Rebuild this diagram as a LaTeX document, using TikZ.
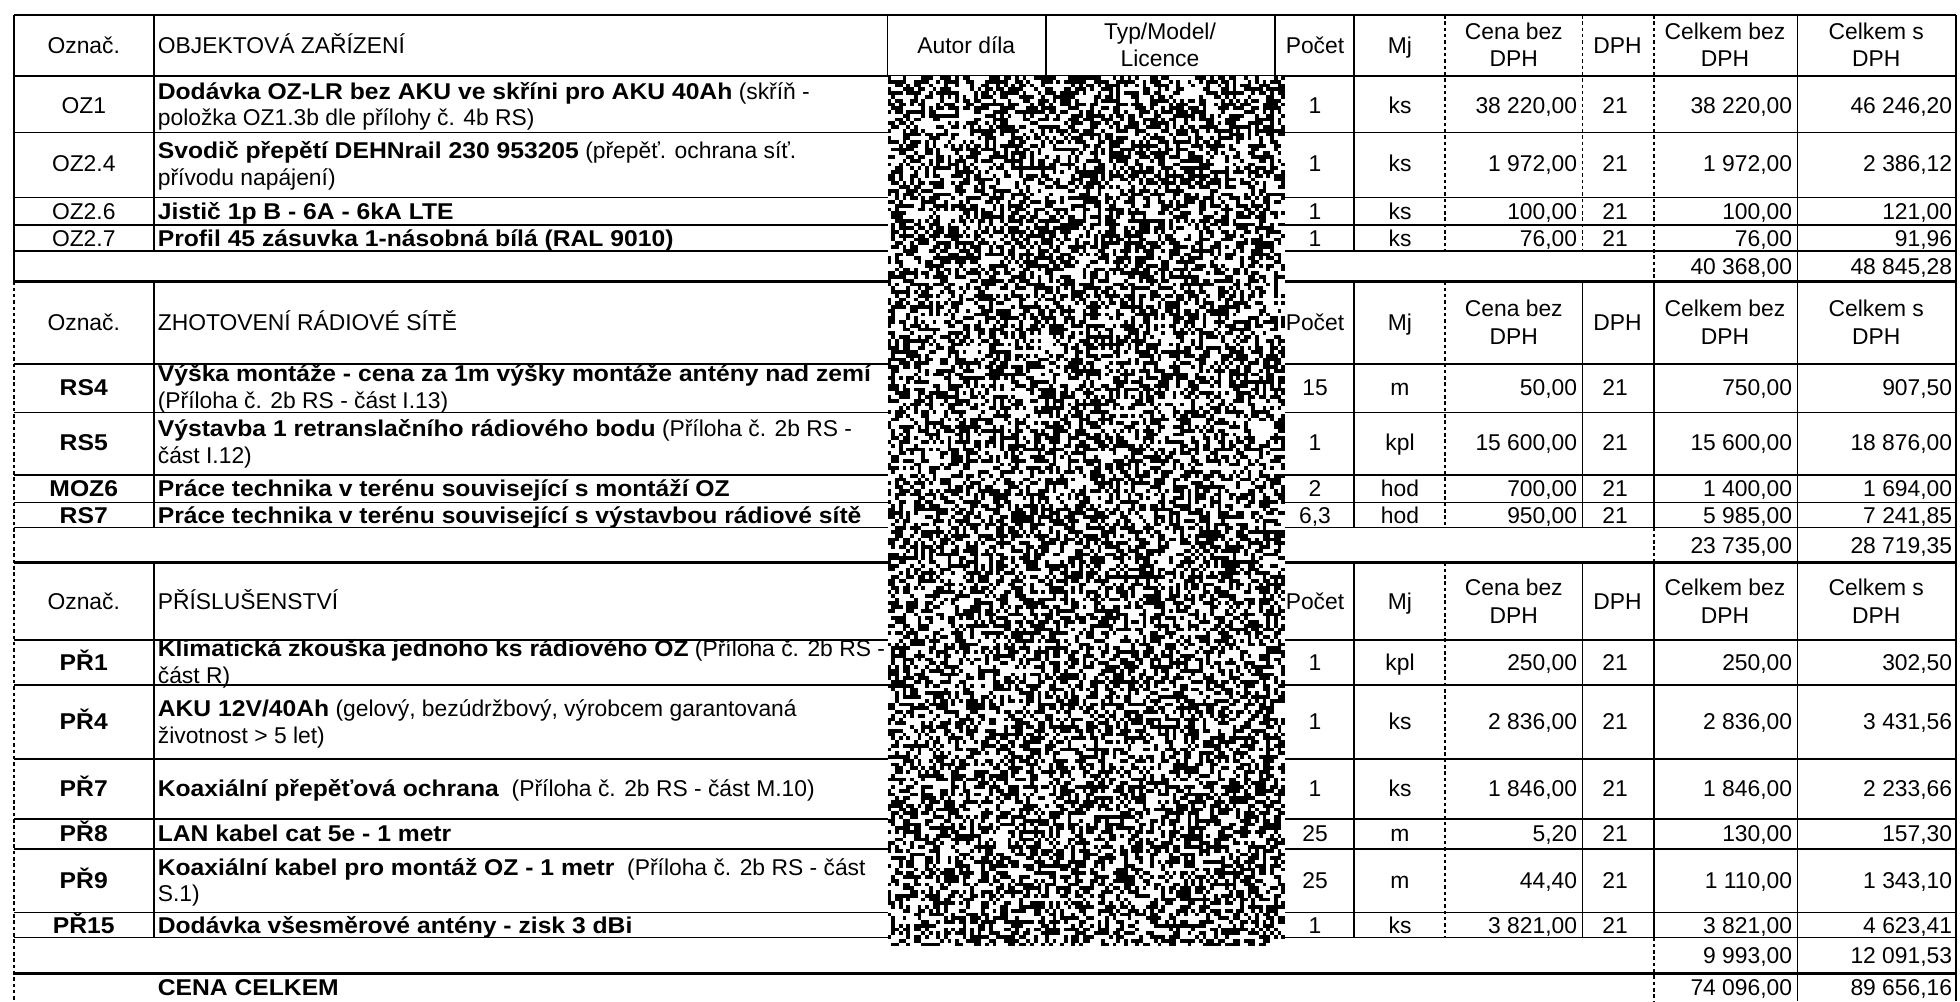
\documentclass[tikz,border=0pt]{standalone}
\usepackage{fontspec}
\setmainfont{Liberation Sans}[BoldFeatures={FakeStretch=1.08}]
\tikzset{
  every node/.style={inner sep=0pt, text height=9.3pt, text depth=0pt,
    font=\fontsize{13}{15}\selectfont},
  lt/.style={anchor=west},
  rt/.style={anchor=east},
  rule/.style={line width=1pt},
  heavy/.style={line width=1.8pt},
  dots/.style={line width=0.9pt, dash pattern=on 2pt off 1.6pt},
}
\newcount\nzstart
\newcommand{\pricerow}[7]{%
  \node (#1q) at (1052,#2) {#3};
  \node (#1u) at (1120,#2) {#4};
  \node[rt] (#1p) at (1262,#2) {#5};
  \node (#1v) at (1292,#2) {21};
  \node[rt] (#1s) at (1434,#2) {#6};
  \node[rt] (#1t) at (1562,#2) {#7};
}
\newcommand{\sumrow}[4]{%
  \node[rt] (#1s) at (1434,#2) {#3};
  \node[rt] (#1t) at (1562,#2) {#4};
}
\newcommand{\colheads}[2]{%
  \node (#1q) at (1052,#2) {Počet};
  \node (#1u) at (1120,#2) {Mj};
  \node (#1pa) at (1211,#2-11) {Cena bez};
  \node (#1pb) at (1211,#2+11) {DPH};
  \node (#1v) at (1294,#2) {DPH};
  \node (#1sa) at (1380,#2-11) {Celkem bez};
  \node (#1sb) at (1380,#2+11) {DPH};
  \node (#1ta) at (1501,#2-11) {Celkem s};
  \node (#1tb) at (1501,#2+11) {DPH};
}
\begin{document}
\begin{tikzpicture}[x=0.025cm, y=-0.025cm]
	\useasboundingbox (0,0) rectangle (1568,801);
	\pgfmathsetseed{4711}

	% table rules
	\foreach \y in {12,61,106,158,180,201,291,330,380,402,422,512,548,607,655,679,730,750}
		\draw[rule] (11,\y) -- (1565,\y);
	\foreach \y in {225,450,779}
		\draw[heavy] (11,\y) -- (1565,\y);

	\draw[rule] (11,12) -- (11,225);
	\draw[dots] (11,225) -- (11,801);
	\foreach \a/\b in {12/201,225/422,450/750} {
		\draw[rule] (123,\a) -- (123,\b);
		\draw[rule] (1083,\a) -- (1083,\b);
		\draw[dots] (1156,\a) -- (1156,\b);
	}
	\draw[rule] (710,12) -- (710,61);
	\draw[rule] (837,12) -- (837,61);
	\draw[rule] (1020,12) -- (1020,61);
	\draw[dots] (1266,12) -- (1266,201);
	\draw[rule] (1266,225) -- (1266,422);
	\draw[rule] (1266,450) -- (1266,750);
	\draw[dots] (1323,12) -- (1323,225);
	\draw[rule] (1323,225) -- (1323,422);
	\draw[dots] (1323,422) -- (1323,450);
	\draw[rule] (1323,450) -- (1323,750);
	\draw[dots] (1323,750) -- (1323,801);
	\draw[rule] (1438,12) -- (1438,801);
	\draw[rule] (1565,12) -- (1565,801);

	% blacked out columns, one rectangle per black run
	\begin{scope}[shift={(710,61)}, x=0.075cm, y=-0.075cm]
		\fill[white] (0,0) rectangle (106,232);
		\foreach \j in {0,...,231} {
			\global\nzstart=-1
			\foreach \i in {0,...,105} {
				\pgfmathrandominteger{\nz}{0}{1}
				\ifnum\nz=1
					\ifnum\nzstart<0 \global\nzstart=\i\relax\fi
				\else
					\ifnum\nzstart>-1
						\fill (\the\nzstart,\j) rectangle (\i,\j+1);
						\global\nzstart=-1
					\fi
				\fi
			}
			\ifnum\nzstart>-1
				\fill (\the\nzstart,\j) rectangle (106,\j+1);
			\fi
		}
	\end{scope}

	% OBJEKTOVA ZARIZENI
	\node (h1code) at (67,36) {Označ.};
	\node[lt] (h1name) at (126,36) {OBJEKTOVÁ ZAŘÍZENÍ};
	\node (h1author) at (773,36) {Autor díla};
	\node (h1typea) at (928,25) {Typ/Model/};
	\node (h1typeb) at (928,47) {Licence};
	\colheads{h1}{36}

	\node (oz1) at (67,84) {OZ1};
	\node[lt] (oz1a) at (126,73) {\textbf{Dodávka OZ-LR bez AKU ve skříni pro AKU 40Ah} (skříň -};
	\node[lt] (oz1b) at (126,94) {položka OZ1.3b dle přílohy č. 4b RS)};
	\pricerow{oz1}{84}{1}{ks}{38 220,00}{38 220,00}{46 246,20}

	\node (oz24) at (67,131) {OZ2.4};
	\node[lt] (oz24a) at (126,120) {\textbf{Svodič přepětí DEHNrail 230 953205} (přepěť. ochrana síť.};
	\node[lt] (oz24b) at (126,142) {přívodu napájení)};
	\pricerow{oz24}{131}{1}{ks}{1 972,00}{1 972,00}{2 386,12}

	\node (oz26) at (67,169) {OZ2.6};
	\node[lt] (oz26a) at (126,169) {\textbf{Jistič 1p B - 6A - 6kA LTE}};
	\pricerow{oz26}{169}{1}{ks}{100,00}{100,00}{121,00}

	\node (oz27) at (67,190.5) {OZ2.7};
	\node[lt] (oz27a) at (126,190.5) {\textbf{Profil 45 zásuvka 1-násobná bílá (RAL 9010)}};
	\pricerow{oz27}{190.5}{1}{ks}{76,00}{76,00}{91,96}

	\sumrow{sub1}{213}{40 368,00}{48 845,28}

	% ZHOTOVENI RADIOVE SITE
	\node (h2code) at (67,258) {Označ.};
	\node[lt] (h2name) at (126,258) {ZHOTOVENÍ RÁDIOVÉ SÍTĚ};
	\colheads{h2}{258}

	\node (rs4) at (67,310) {\textbf{RS4}};
	\node[lt] (rs4a) at (126,299) {\textbf{Výška montáže - cena za 1m výšky montáže antény nad zemí}};
	\node[lt] (rs4b) at (126,320) {(Příloha č. 2b RS - část I.13)};
	\pricerow{rs4}{310}{15}{m}{50,00}{750,00}{907,50}

	\node (rs5) at (67,354) {\textbf{RS5}};
	\node[lt] (rs5a) at (126,343) {\textbf{Výstavba 1 retranslačního rádiového bodu} (Příloha č. 2b RS -};
	\node[lt] (rs5b) at (126,364) {část I.12)};
	\pricerow{rs5}{354}{1}{kpl}{15 600,00}{15 600,00}{18 876,00}

	\node (moz6) at (67,391) {\textbf{MOZ6}};
	\node[lt] (moz6a) at (126,391) {\textbf{Práce technika v terénu související s montáží OZ}};
	\pricerow{moz6}{391}{2}{hod}{700,00}{1 400,00}{1 694,00}

	\node (rs7) at (67,412) {\textbf{RS7}};
	\node[lt] (rs7a) at (126,412) {\textbf{Práce technika v terénu související s výstavbou rádiové sítě}};
	\pricerow{rs7}{412}{6,3}{hod}{950,00}{5 985,00}{7 241,85}

	\sumrow{sub2}{436}{23 735,00}{28 719,35}

	% PRISLUSENSTVI
	\node (h3code) at (67,481) {Označ.};
	\node[lt] (h3name) at (126,481) {PŘÍSLUŠENSTVÍ};
	\colheads{h3}{481}

	\node (pr1) at (67,530) {\textbf{PŘ1}};
	\node[lt] (pr1a) at (126,519) {\textbf{Klimatická zkouška jednoho ks rádiového OZ} (Příloha č. 2b RS -};
	\node[lt] (pr1b) at (126,540) {část R)};
	\pricerow{pr1}{530}{1}{kpl}{250,00}{250,00}{302,50}

	\node (pr4) at (67,577) {\textbf{PŘ4}};
	\node[lt] (pr4a) at (126,567) {\textbf{AKU 12V/40Ah} (gelový, bezúdržbový, výrobcem garantovaná};
	\node[lt] (pr4b) at (126,588) {životnost > 5 let)};
	\pricerow{pr4}{577}{1}{ks}{2 836,00}{2 836,00}{3 431,56}

	\node (pr7) at (67,631) {\textbf{PŘ7}};
	\node[lt] (pr7a) at (126,631) {\textbf{Koaxiální přepěťová ochrana}\ \ (Příloha č. 2b RS - část M.10)};
	\pricerow{pr7}{631}{1}{ks}{1 846,00}{1 846,00}{2 233,66}

	\node (pr8) at (67,667) {\textbf{PŘ8}};
	\node[lt] (pr8a) at (126,667) {\textbf{LAN kabel cat 5e - 1 metr}};
	\pricerow{pr8}{667}{25}{m}{5,20}{130,00}{157,30}

	\node (pr9) at (67,704) {\textbf{PŘ9}};
	\node[lt] (pr9a) at (126,694) {\textbf{Koaxiální kabel pro montáž OZ - 1 metr}\ \ (Příloha č. 2b RS - část};
	\node[lt] (pr9b) at (126,715) {S.1)};
	\pricerow{pr9}{704}{25}{m}{44,40}{1 110,00}{1 343,10}

	\node (pr15) at (67,740) {\textbf{PŘ15}};
	\node[lt] (pr15a) at (126,740) {\textbf{Dodávka všesměrové antény - zisk 3 dBi}};
	\pricerow{pr15}{740}{1}{ks}{3 821,00}{3 821,00}{4 623,41}

	\sumrow{sub3}{764.5}{9 993,00}{12 091,53}

	% CENA CELKEM
	\node[lt] (total) at (126,790) {\textbf{CENA CELKEM}};
	\sumrow{grand}{790}{74 096,00}{89 656,16}

\end{tikzpicture}
\end{document}
